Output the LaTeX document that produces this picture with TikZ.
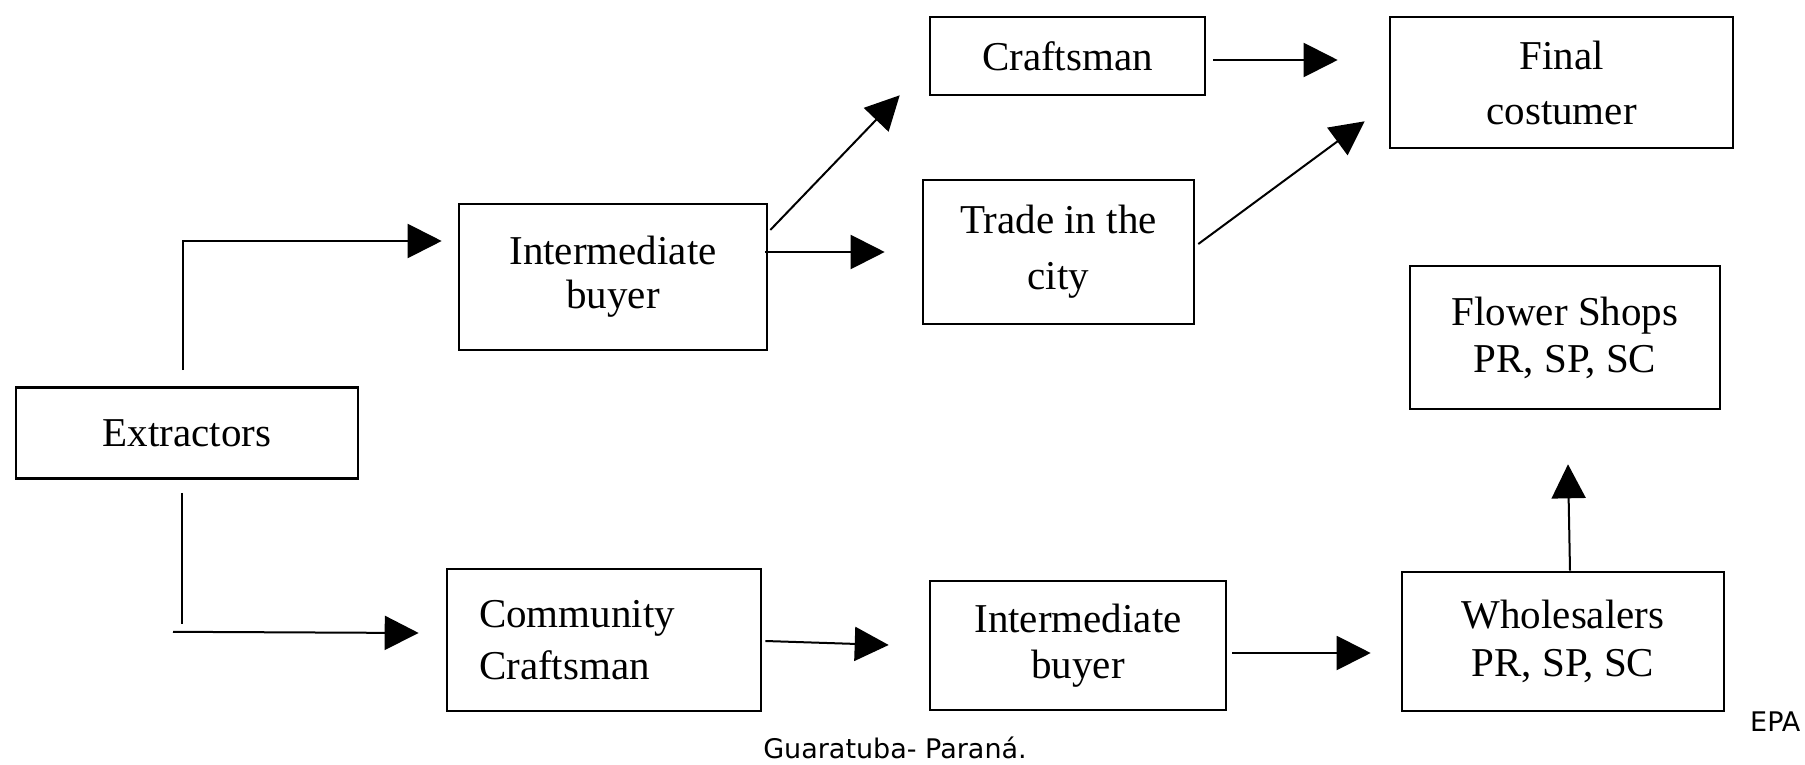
\documentclass[tikz,border=0pt]{standalone}
\usepackage{fontspec}
\setmainfont{Liberation Serif}
\newfontfamily\sansfam{DejaVu Sans}
\usetikzlibrary{arrows.meta,calc}
\tikzset{
  box/.style={draw, line width=2.6pt, align=center, inner sep=0pt,
    font=\fontsize{41}{48}\selectfont},
  conn/.style={line width=2pt, -{Triangle[length=34pt,width=34pt]}},
  plainline/.style={line width=2pt},
  caption/.style={font=\fontsize{27}{30}\sansfam, inner sep=0pt}
}
\begin{document}
\begin{tikzpicture}[x=1pt,y=-1pt]
\path[use as bounding box, fill=white] (0,0) rectangle (1805,765);

\node[box, minimum width=342pt, minimum height=91pt] (ext) at (187,433) {Extractors};
\node[box, minimum width=308pt, minimum height=146pt, font=\fontsize{41}{44}\selectfont] (intT) at (613,277) {Intermediate\\buyer};
\node[box, minimum width=275pt, minimum height=78pt] (craft) at (1067.5,56) {Craftsman};
\node[box, minimum width=271pt, minimum height=144pt, font=\fontsize{41}{56}\selectfont] (trade) at (1058.5,252) {Trade in the\\city};
\node[box, minimum width=343pt, minimum height=131pt, font=\fontsize{41}{55}\selectfont] (final) at (1561.5,82.5) {Final\\costumer};
\node[box, minimum width=310pt, minimum height=143pt, font=\fontsize{41}{47}\selectfont] (flower) at (1565,337.5) {Flower Shops\\PR, SP, SC};
\node[box, minimum height=142pt, text width=250pt, inner xsep=32pt, align=left, font=\fontsize{41}{52}\selectfont] (comm) at (604,640) {Community\\Craftsman};
\node[box, minimum width=296pt, minimum height=129pt, font=\fontsize{41}{46}\selectfont] (intB) at (1078,645.5) {Intermediate\\buyer};
\node[box, minimum width=322pt, minimum height=139pt, font=\fontsize{41}{48}\selectfont] (whole) at (1563,641.5) {Wholesalers\\PR, SP, SC};

\node[caption, anchor=base west] (epa) at (1750,731) {EPA};
\node[caption, anchor=base] (place) at (895,758) {Guaratuba- Paraná.};

\draw[conn] ($(ext.north)+(-4,-16)$) |- ($(intT.west)+(-16,-36)$);
\draw[plainline] ($(ext.south)+(-5,13)$) -- ++(0,131) coordinate (dturn);
\draw[conn] ($(ext.south)+(-14,152)$) -- ($(comm.west)+(-27,-7)$);
\draw[conn] ($(intT.east)+(2,-47)$) -- ($(craft.south west)+(-29,-1)$);
\draw[conn] ($(intT.east)+(-3,-25)$) -- ($(trade.west)+(-37,0)$);
\draw[conn] ($(craft.east)+(7,4)$) -- ($(final.west)+(-51,-22.5)$);
\draw[conn] ($(trade.east)+(3,-8)$) -- ($(final.south west)+(-24,-28)$);
\draw[conn] ($(comm.east)+(3,1)$) -- ($(intB.west)+(-40,-0.5)$);
\draw[conn] ($(intB.east)+(5,7.5)$) -- ($(whole.west)+(-30,11.5)$);
\draw[conn] ($(whole.north)+(7,0)$) -- ($(flower.south)+(3,54)$);
\end{tikzpicture}
\end{document}
